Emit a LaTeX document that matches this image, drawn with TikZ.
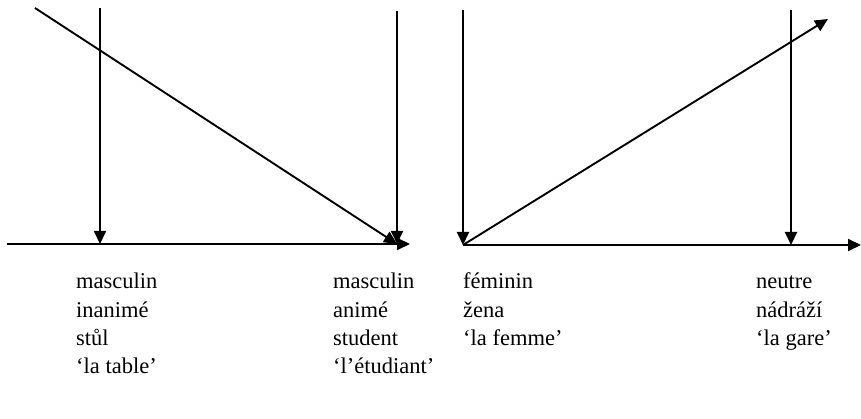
\documentclass[tikz,border=0pt]{standalone}
\usepackage{fontspec}
\setmainfont{Liberation Serif}
\usetikzlibrary{arrows.meta}
\tikzset{
  axis/.style={line width=1.9pt, -{Triangle[length=13pt,width=12pt]}},
  gloss/.style={anchor=base west, inner sep=0pt, font=\fontsize{22.5}{27}\selectfont}
}

\begin{document}
\begin{tikzpicture}[x=1pt, y=-1pt, line join=miter]
  \useasboundingbox (0,0) rectangle (861,419);

  % Left panel: masculine axis
  \coordinate (LA) at (7,244);    % axis start
  \coordinate (LB) at (410,244);  % axis end
  \coordinate (LI) at (100,244);  % inanimate point
  \coordinate (LM) at (397,244);  % animate point
  \coordinate (LIt) at (100,8);
  \coordinate (LMt) at (397,11);
  \coordinate (LD) at (35,8);     % start of diagonal

  \draw[axis] (LA) -- (LB);
  \draw[axis] (LIt) -- (LI);
  \draw[axis] (LMt) -- (LM);
  \draw[axis] (LD) -- (LM);

  % Right panel: feminine / neuter axis
  \coordinate (RA) at (463,245);
  \coordinate (RB) at (861,245);
  \coordinate (RF) at (463,245);  % feminine point
  \coordinate (RN) at (791,245);  % neuter point
  \coordinate (RFt) at (463,10);
  \coordinate (RNt) at (791,10);
  \coordinate (RD) at (828,19);   % end of diagonal

  \draw[axis] (RA) -- (RB);
  \draw[axis] (RFt) -- (RF);
  \draw[axis] (RNt) -- (RN);
  \draw[axis] (RF) -- (RD);

  % Glosses under the axes
  \node[gloss] (m1) at (76,289) {masculin};
  \node[gloss] (m2) at (76,317) {inanimé};
  \node[gloss] (m3) at (76,345) {stůl};
  \node[gloss] (m4) at (76,373) {‘la table’};

  \node[gloss] (a1) at (333,289) {masculin};
  \node[gloss] (a2) at (333,317) {animé};
  \node[gloss] (a3) at (333,345) {student};
  \node[gloss] (a4) at (333,373) {‘l’étudiant’};

  \node[gloss] (f1) at (463,289) {féminin};
  \node[gloss] (f2) at (463,317) {žena};
  \node[gloss] (f3) at (463,345) {‘la femme’};

  \node[gloss] (n1) at (756,289) {neutre};
  \node[gloss] (n2) at (756,317) {nádráží};
  \node[gloss] (n3) at (756,345) {‘la gare’};
\end{tikzpicture}
\end{document}
